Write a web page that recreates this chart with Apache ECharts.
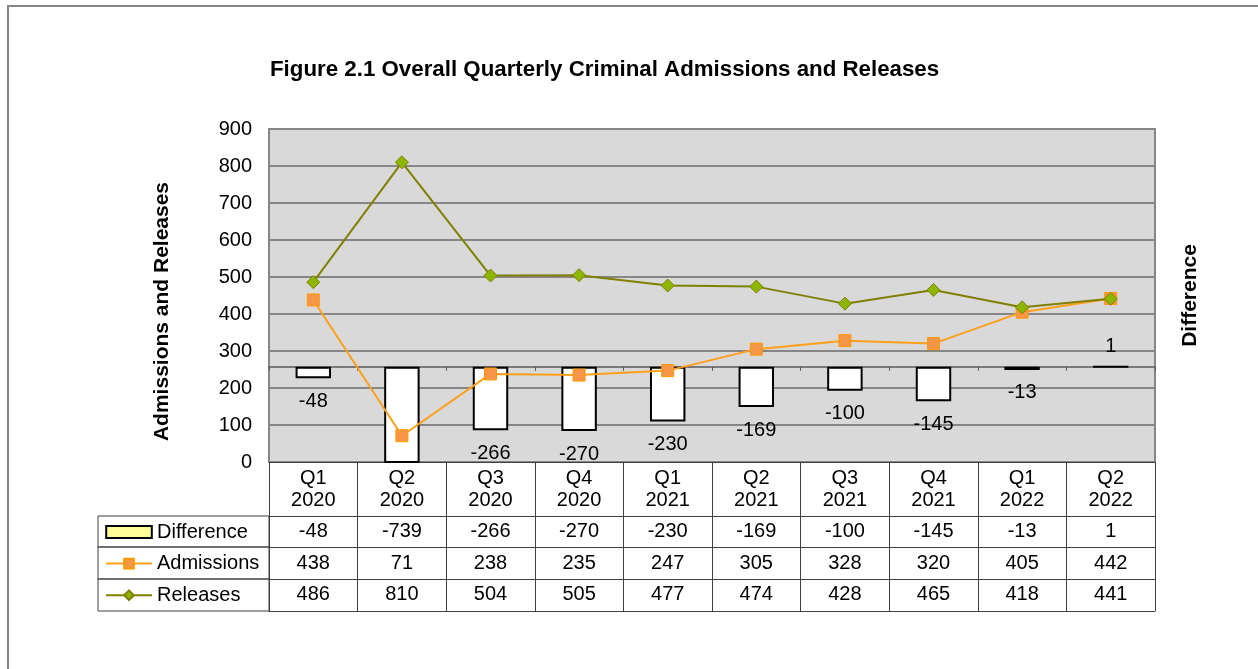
<!DOCTYPE html>
<html>
<head>
<meta charset="utf-8">
<script src="https://cdn.jsdelivr.net/npm/echarts@6.0.0/dist/echarts.min.js"></script>
<style>
  html, body { margin: 0; padding: 0; background: #fff; }
  #chart { width: 1258px; height: 669px; }
</style>
</head>
<body>
<div id="chart"></div>
<script>
// data
var quarters = ['Q1\n2020', 'Q2\n2020', 'Q3\n2020', 'Q4\n2020', 'Q1\n2021', 'Q2\n2021', 'Q3\n2021', 'Q4\n2021', 'Q1\n2022', 'Q2\n2022']
var difference = [-48, -739, -266, -270, -230, -169, -100, -145, -13, 1]
var admissions = [438, 71, 238, 235, 247, 305, 328, 320, 405, 442]
var releases = [486, 810, 504, 505, 477, 474, 428, 465, 418, 441]

var font = 'Liberation Sans, Arial, sans-serif'
var lineCol = '#404040'
var diffMin = -400, diffMax = 1000

// table rows under the plot (offsets from plot bottom)
var rowOffsets = [54, 85, 117, 149]

function rowAxis(values, offset, margin) {
  return {
    type: 'category', gridIndex: 0, position: 'bottom', offset: offset,
    data: quarters,
    axisLine: { onZero: false, lineStyle: { color: lineCol, width: 1 } },
    axisTick: { show: false },
    axisLabel: {
      show: !!values, interval: 0, margin: margin, fontSize: 20, color: '#000', fontFamily: font,
      formatter: function (v, i) { return values ? String(values[i]) : '' }
    },
    splitLine: { show: false }
  }
}

var chart = echarts.init(document.getElementById('chart'))
var option = {
  animation: false,
  textStyle: { fontFamily: font },
  title: {
    text: 'Figure 2.1 Overall Quarterly Criminal Admissions and Releases',
    left: 265, top: 54,
    textStyle: { fontSize: 22.3, fontWeight: 'bold', color: '#000', fontFamily: font }
  },
  grid: {
    left: 269, right: 103, top: 129, bottom: 207,
    show: true, backgroundColor: '#D9D9D9', borderColor: '#868686', borderWidth: 2
  },
  legend: {
    orient: 'vertical', left: 105, top: 522, padding: 0,
    itemWidth: 46, itemHeight: 12, itemGap: 11.6,
    textStyle: { fontSize: 20, color: '#000', lineHeight: 20, fontFamily: font },
    data: [
      { name: 'Difference', icon: 'path://M8,1 L46,1 L46,11 L8,11 Z', itemStyle: { color: '#FFFF99', borderColor: '#000', borderWidth: 2 } },
      'Admissions',
      'Releases'
    ]
  },
  xAxis: [
    {
      type: 'category', gridIndex: 0, data: quarters,
      axisLine: { onZero: true, onZeroAxisIndex: 1, lineStyle: { color: '#595959', width: 1.5 } },
      axisTick: { show: true, length: 4, interval: 0, lineStyle: { color: '#595959' } },
      axisLabel: { show: false },
      splitLine: { show: false }
    },
    {
      type: 'category', gridIndex: 0, position: 'bottom', offset: 0, data: quarters,
      axisLine: { onZero: false, lineStyle: { color: lineCol, width: 1 } },
      axisTick: { show: true, length: rowOffsets[3], interval: 0, lineStyle: { color: lineCol } },
      axisLabel: { interval: 0, margin: 5, fontSize: 20, lineHeight: 22, color: '#000', fontFamily: font },
      splitLine: { show: false }
    },
    rowAxis(difference, rowOffsets[0], 5),
    rowAxis(admissions, rowOffsets[1], 6),
    rowAxis(releases, rowOffsets[2], 5),
    rowAxis(null, rowOffsets[3], 5)
  ],
  yAxis: [
    {
      type: 'value', min: 0, max: 900, interval: 100,
      name: 'Admissions and Releases', nameLocation: 'middle', nameGap: 96, nameRotate: 90,
      nameTextStyle: { fontSize: 21, fontWeight: 'bold', color: '#000', padding: [0, 32, 0, 0] },
      axisLine: { show: true, lineStyle: { color: '#868686' } },
      axisTick: { show: false },
      axisLabel: { fontSize: 20, color: '#000', margin: 17 },
      splitLine: { lineStyle: { color: '#868686', width: 2 } }
    },
    {
      type: 'value', min: diffMin, max: diffMax, position: 'right',
      name: 'Difference', nameLocation: 'middle', nameGap: 25, nameRotate: 90,
      nameTextStyle: { fontSize: 21, fontWeight: 'bold', color: '#000' },
      axisLine: { show: false }, axisTick: { show: false }, axisLabel: { show: false },
      splitLine: { show: false }
    }
  ],
  series: [
    {
      name: 'Difference', type: 'bar', xAxisIndex: 0, yAxisIndex: 1,
      barWidth: '40%', clip: true,
      itemStyle: { color: '#ffffff', borderColor: '#000', borderWidth: 2 },
      label: { show: true, fontSize: 20, color: '#000', distance: 13 },
      data: difference.map(function (v) {
        return { value: v, label: { show: v >= diffMin, position: v < 0 ? 'bottom' : 'top', distance: v < 0 ? 13 : 9 } }
      })
    },
    {
      name: 'Admissions', type: 'line', xAxisIndex: 0, yAxisIndex: 0,
      symbol: 'rect', symbolSize: 12, z: 3,
      itemStyle: { color: '#F79646', borderColor: '#FF9900', borderWidth: 1 },
      lineStyle: { color: '#FF9F1A', width: 2 },
      data: admissions
    },
    {
      name: 'Releases', type: 'line', xAxisIndex: 0, yAxisIndex: 0,
      symbol: 'diamond', symbolSize: 13, z: 4,
      itemStyle: { color: '#8DB600', borderColor: '#808000', borderWidth: 1 },
      lineStyle: { color: '#808000', width: 2 },
      data: releases
    }
  ],
  graphic: [
    // outer frame (top and left only, like the cropped original)
    { type: 'line', shape: { x1: 7, y1: 6, x2: 1258, y2: 6 }, style: { stroke: '#868686', lineWidth: 2 } },
    { type: 'line', shape: { x1: 8, y1: 6, x2: 8, y2: 669 }, style: { stroke: '#868686', lineWidth: 2 } },
    // legend column of the data table
    { type: 'rect', shape: { x: 98, y: 462 + rowOffsets[0], width: 171, height: rowOffsets[1] - rowOffsets[0] }, style: { fill: 'none', stroke: lineCol, lineWidth: 1 } },
    { type: 'rect', shape: { x: 98, y: 462 + rowOffsets[1], width: 171, height: rowOffsets[2] - rowOffsets[1] }, style: { fill: 'none', stroke: lineCol, lineWidth: 1 } },
    { type: 'rect', shape: { x: 98, y: 462 + rowOffsets[2], width: 171, height: rowOffsets[3] - rowOffsets[2] }, style: { fill: 'none', stroke: lineCol, lineWidth: 1 } }
  ]
}
chart.setOption(option)
</script>
</body>
</html>
